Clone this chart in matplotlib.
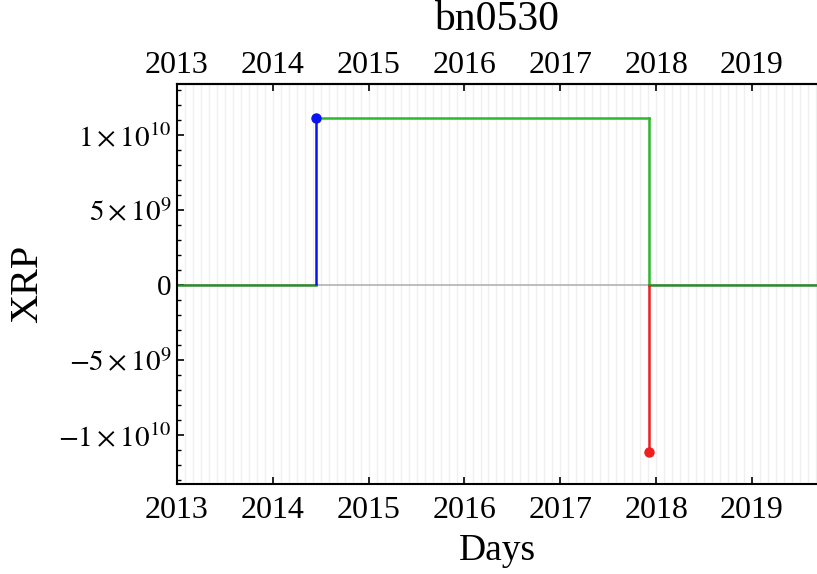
import datetime
import numpy as np
import matplotlib.pyplot as plt
import matplotlib.dates as mdates
from matplotlib.ticker import MultipleLocator

plt.rcParams['font.family'] = 'Liberation Serif'
plt.rcParams['mathtext.fontset'] = 'stix'

account = 'bn0530'

# incoming / outgoing payments (date, XRP)
in_dates = ['2014-06-14']
in_amounts = [1.115e10]
out_dates = ['2017-12-04']
out_amounts = [-1.115e10]

# running balance as a step series
bal_dates = ['2013-01-01', '2014-06-14', '2017-12-04', '2019-09-06']
bal_values = [0, 1.115e10, 0, 0]

year_labels = ['2013', '2014', '2015', '2016', '2017', '2018', '2019']
ytick_vals = [-1e10, -5e9, 0, 5e9, 1e10]
ytick_labels = [r'$-1\times10^{10}$', r'$-5\times10^{9}$', '0',
                r'$5\times10^{9}$', r'$1\times10^{10}$']

in_d = mdates.datestr2num(in_dates)
out_d = mdates.datestr2num(out_dates)
bal_d = mdates.datestr2num(bal_dates)

fig = plt.figure(figsize=(8.17, 5.74), dpi=100)
ax = fig.add_axes([0.2166, 0.1568, 0.7834, 0.6969])

x0, x1 = bal_d[0], bal_d[-1]

# monthly background grid
months = mdates.drange(mdates.num2date(x0), mdates.num2date(x1),
                       datetime.timedelta(days=30.44))
for m in months:
    ax.axvline(m, color='#efefef', lw=0.9, zorder=0)

# zero line
ax.axhline(0, color='#bdbdbd', lw=1.4, zorder=1)

# balance: nonzero part in bright green, zero part darker
for i in range(len(bal_d) - 1):
    c = '#2cb82c' if bal_values[i] != 0 else '#2e8b2e'
    ax.plot([bal_d[i], bal_d[i + 1]], [bal_values[i], bal_values[i]], color=c, lw=1.8, zorder=2)
    if bal_values[i + 1] != bal_values[i] and bal_values[i] != 0:
        ax.plot([bal_d[i + 1], bal_d[i + 1]], [bal_values[i], bal_values[i + 1]],
                color='#2cb82c', lw=1.8, zorder=2)

ax.vlines(in_d, 0, in_amounts, color='#0a14f0', lw=1.8, zorder=3)
ax.plot(in_d, in_amounts, 'o', color='#0a14f0', ms=6.5, zorder=4)
ax.vlines(out_d, 0, out_amounts, color='#f01e1e', lw=1.8, zorder=3)
ax.plot(out_d, out_amounts, 'o', color='#f01e1e', ms=6.5, zorder=4)

ax.set_xlim(x0, x1)
ax.set_ylim(-1.327e10, 1.34e10)

year_pos = mdates.datestr2num([y + '-01-01' for y in year_labels])
ax.set_xticks(year_pos)
ax.set_xticklabels(year_labels)
ax.set_yticks(ytick_vals)
ax.set_yticklabels(ytick_labels)
ax.yaxis.set_minor_locator(MultipleLocator(1e9))

ax.tick_params(axis='x', which='major', direction='in', labelsize=23,
               length=5, width=1.2, pad=9)
ax.tick_params(axis='y', which='major', direction='in', labelsize=21,
               length=5, width=1.2, pad=4, right=False)
ax.tick_params(axis='y', which='minor', direction='in', length=3, width=1, right=False)

# year labels along the top as well
top = ax.secondary_xaxis('top')
top.set_xticks(year_pos)
top.set_xticklabels(year_labels)
top.tick_params(direction='in', labelsize=23, length=5, width=1.2, pad=3)
top.spines['top'].set_linewidth(1.5)

for s in ['left', 'top', 'bottom']:
    ax.spines[s].set_linewidth(1.5)
ax.spines['right'].set_visible(False)

ax.set_ylabel('XRP', fontsize=29)
ax.yaxis.set_label_coords(-0.205, 0.5)
ax.set_xlabel('Days', fontsize=27, labelpad=6)
fig.text(0.6083, 0.965, account, fontsize=30, ha='center', va='center')

fig.savefig('out.png', dpi=100)
